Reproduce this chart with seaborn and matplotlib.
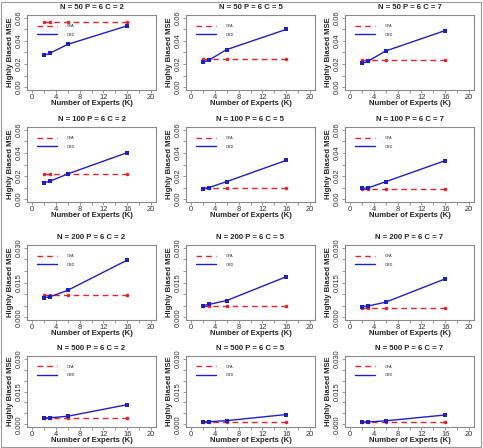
import matplotlib
matplotlib.use("Agg")
import matplotlib.pyplot as plt
from matplotlib.patches import Rectangle
from matplotlib.lines import Line2D
import seaborn as sns
import pandas as pd
import numpy as np

sns.set_style("white")
plt.rcParams['font.family'] = ['Liberation Sans', 'DejaVu Sans']

K = [2, 3, 6, 16]
N_vals = [50, 100, 200, 500]
C_vals = [2, 5, 7]

# CFA (constant across K) and OBD values, per N (rows) and C (columns)
cfa_50 = [0.0567, 0.0242, 0.0232]
obd_50_c2 = [0.0275, 0.0293, 0.0370, 0.0531]
obd_50_c5 = [0.0215, 0.0233, 0.0325, 0.0500]
obd_50_c7 = [0.0205, 0.0223, 0.0313, 0.0490]

cfa_100 = [0.0218, 0.0100, 0.0088]
obd_100_c2 = [0.0142, 0.0155, 0.0218, 0.0403]
obd_100_c5 = [0.0091, 0.0100, 0.0152, 0.0336]
obd_100_c7 = [0.0094, 0.0097, 0.0151, 0.0334]

cfa_200 = [0.0098, 0.0050, 0.0042]
obd_200_c2 = [0.0084, 0.0088, 0.0116, 0.0247]
obd_200_c5 = [0.0050, 0.0055, 0.0072, 0.0175]
obd_200_c7 = [0.0046, 0.0048, 0.0065, 0.0166]

cfa_500 = [0.0029, 0.0010, 0.0009]
obd_500_c2 = [0.0029, 0.0030, 0.0037, 0.0090]
obd_500_c5 = [0.0012, 0.0012, 0.0017, 0.0045]
obd_500_c7 = [0.0011, 0.0011, 0.0016, 0.0043]

cfa_rows = [cfa_50, cfa_100, cfa_200, cfa_500]
obd_rows = [[obd_50_c2, obd_50_c5, obd_50_c7],
            [obd_100_c2, obd_100_c5, obd_100_c7],
            [obd_200_c2, obd_200_c5, obd_200_c7],
            [obd_500_c2, obd_500_c5, obd_500_c7]]

x_ticks = list(range(0, 21, 2))
x_labels = ['0', '', '4', '', '8', '', '12', '', '16', '', '20']
y_top_rows = [0.06, 0.06, 0.03, 0.03]

RED = '#E8202A'
BLUE = '#1F1FC8'
FRAME = '#8A8A8A'

W, H = 483, 448
fig = plt.figure(figsize=(W / 100, H / 100), dpi=100)

col_left = [27, 186, 345]
row_top = [15, 127, 245, 356]
row_h = [75, 75, 75, 71]
aw = 129

for r in range(4):
    ytop = y_top_rows[r]
    ah = row_h[r]
    if ytop == 0.06:
        yt = np.round(np.arange(0, 0.0601, 0.01), 3)
        yl = ['0.00', '', '0.02', '', '0.04', '', '0.06']
    else:
        yt = np.round(np.arange(0, 0.0301, 0.005), 3)
        yl = ['0.000', '', '', '0.015', '', '', '0.030']
    for c in range(3):
        ax = fig.add_axes([col_left[c] / W, 1 - (row_top[r] + ah) / H, aw / W, ah / H])
        cfa = [cfa_rows[r][c]] * len(K)
        obd = obd_rows[r][c]
        df = pd.DataFrame({'K': K * 2, 'MSE': cfa + obd,
                           'Method': ['CFA'] * len(K) + ['OBD'] * len(K)})
        sns.lineplot(data=df[df.Method == 'CFA'], x='K', y='MSE', ax=ax,
                     color=RED, linestyle=(0, (4, 3)), lw=1.0,
                     marker='o', markersize=2.6, markeredgewidth=0, legend=False)
        sns.lineplot(data=df[df.Method == 'OBD'], x='K', y='MSE', ax=ax,
                     color=BLUE, lw=1.0, marker='s', markersize=3.2,
                     markeredgewidth=0, legend=False)
        pad = 0.04
        ax.set_xlim(0 - 20 * pad, 20 + 20 * pad)
        ax.set_ylim(0 - ytop * pad, ytop + ytop * pad)
        ax.set_xticks(x_ticks)
        ax.set_xticklabels(x_labels)
        ax.set_yticks(yt)
        ax.set_yticklabels(yl, rotation=90, va='center')
        ax.tick_params(axis='both', direction='out', length=2.2, width=0.6,
                       color=FRAME, labelsize=5.4, labelcolor='#333333', pad=0.8,
                       bottom=True, left=True)
        for s in ax.spines.values():
            s.set_color(FRAME)
            s.set_linewidth(0.8)
        ax.set_title(f'N = {N_vals[r]} P = 6 C = {C_vals[c]}', fontsize=5.6,
                     fontweight='bold', pad=4)
        ax.set_xlabel('Number of Experts (K)', fontsize=5.6, fontweight='bold',
                      labelpad=-0.5)
        ax.set_ylabel('Highly Biased MSE', fontsize=5.6, fontweight='bold',
                      labelpad=1.2)
        handles = [Line2D([], [], color=RED, linestyle=(0, (4, 3)), lw=1.0),
                   Line2D([], [], color=BLUE, lw=1.0)]
        ax.legend(handles, ['CFA', 'OBD'], loc='upper left',
                  bbox_to_anchor=(0.08, 0.88), frameon=False, fontsize=2.8,
                  handlelength=5, handletextpad=2.5, labelspacing=1.2,
                  borderaxespad=0, borderpad=0)

fig.patches.append(Rectangle((1 / W, 1 / H), 1 - 3 / W, 1 - 3 / H,
                             transform=fig.transFigure, fill=False,
                             edgecolor='#999999', lw=0.8))
fig.savefig('out.png', dpi=100)
